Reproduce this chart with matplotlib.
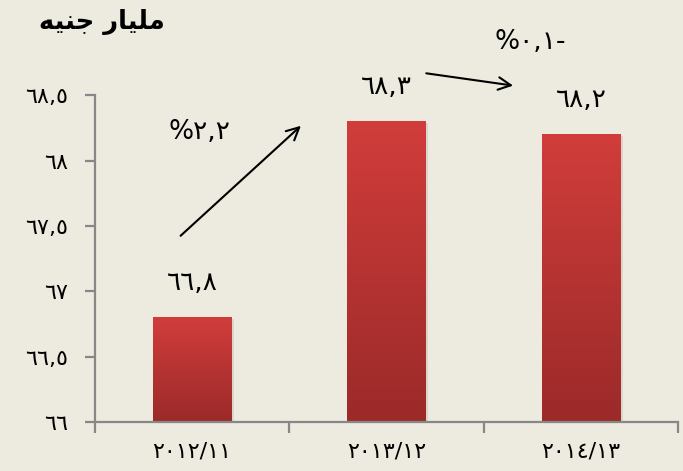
import numpy as np
import matplotlib
matplotlib.use("Agg")
import matplotlib.pyplot as plt
from matplotlib.colors import LinearSegmentedColormap

# ---- data ----
categories = ["٢٠١٢/١١", "٢٠١٣/١٢", "٢٠١٤/١٣"]
values = [66.8, 68.3, 68.2]
value_labels = ["٦٦,٨", "٦٨,٣", "٦٨,٢"]
yticks = [66, 66.5, 67, 67.5, 68, 68.5]
ytick_labels = ["٦٦", "٦٦,٥", "٦٧", "٦٧,٥", "٦٨", "٦٨,٥"]
change_labels = ["%٢,٢", "%٠,١-"]
title_text = "مليار جنيه"

# ---- minimal Arabic shaping (presentation forms, visual order) ----
FORMS = {  # isolated, final, initial, medial
    "م": ("\uFEE1", "\uFEE2", "\uFEE3", "\uFEE4"),
    "ل": ("\uFEDD", "\uFEDE", "\uFEDF", "\uFEE0"),
    "ي": ("\uFEF1", "\uFEF2", "\uFEF3", "\uFEF4"),
    "ا": ("\uFE8D", "\uFE8E", None, None),
    "ر": ("\uFEAD", "\uFEAE", None, None),
    "ج": ("\uFE9D", "\uFE9E", "\uFE9F", "\uFEA0"),
    "ن": ("\uFEE5", "\uFEE6", "\uFEE7", "\uFEE8"),
    "ه": ("\uFEE9", "\uFEEA", "\uFEEB", "\uFEEC"),
}


def shape_arabic(s):
    out = []
    chars = list(s)
    for i, c in enumerate(chars):
        if c not in FORMS:
            out.append(c)
            continue
        prev = chars[i - 1] if i > 0 else None
        nxt = chars[i + 1] if i + 1 < len(chars) else None
        join_prev = prev in FORMS and FORMS[prev][2] is not None
        join_next = nxt in FORMS and FORMS[c][2] is not None
        iso, fin, ini, med = FORMS[c]
        if join_prev and join_next:
            out.append(med)
        elif join_prev:
            out.append(fin)
        elif join_next:
            out.append(ini)
        else:
            out.append(iso)
    return "".join(out[::-1])


BG = "#EDEADF"
GRAY = "#878787"
plt.rcParams["font.family"] = ["DejaVu Sans"]

fig = plt.figure(figsize=(6.83, 4.71), dpi=100, facecolor=BG)
ax = fig.add_axes([0.139, 0.104, 0.854, 0.694])
ax.set_facecolor(BG)

x = np.arange(len(categories))
bars = ax.bar(x, values, width=0.405, bottom=0, color="none", edgecolor="none", zorder=2)

cmap = LinearSegmentedColormap.from_list("redgrad", ["#9B2A29", "#D13D3B"])
grad = np.linspace(0, 1, 256).reshape(-1, 1)
for b in bars:
    x0, w = b.get_x(), b.get_width()
    top = b.get_height()
    # soft shadow
    ax.bar(x0 + w / 2 + 0.012, top - 66, width=w, bottom=66 - 0.015,
           color="#c9c4b8", alpha=0.5, zorder=1.5, edgecolor="none")
    ax.imshow(grad, extent=[x0, x0 + w, 66, top], origin="lower", cmap=cmap,
              aspect="auto", zorder=2, interpolation="bicubic")

ax.set_xlim(-0.5, 2.5)
ax.set_ylim(66, 68.5)

for s in ["top", "right"]:
    ax.spines[s].set_visible(False)
for s in ["left", "bottom"]:
    ax.spines[s].set_color(GRAY)
    ax.spines[s].set_linewidth(1.6)

ax.set_yticks(yticks)
ax.set_yticklabels(ytick_labels, fontsize=16)
ax.tick_params(axis="y", direction="out", length=7, width=1.6, color=GRAY, pad=12)

ax.set_xticks(x)
ax.set_xticklabels(categories, fontsize=16)
ax.tick_params(axis="x", which="major", length=0, pad=14)
ax.set_xticks([-0.5, 0.5, 1.5, 2.5], minor=True)
ax.tick_params(axis="x", which="minor", direction="out", length=8, width=1.6, color=GRAY)

for xi, v, lab in zip(x, values, value_labels):
    ax.annotate(lab, (xi, v), xytext=(0, 25), textcoords="offset points",
                ha="center", va="center", fontsize=19, color="black",
                annotation_clip=False)

# growth arrows
ax.annotate("", xy=(0.57, 68.28), xytext=(-0.07, 67.41),
            arrowprops=dict(arrowstyle="->,head_length=0.9,head_width=0.45", lw=1.5, color="black"),
            annotation_clip=False)
ax.annotate("", xy=(1.665, 68.57), xytext=(1.19, 68.67),
            arrowprops=dict(arrowstyle="->,head_length=0.9,head_width=0.45", lw=1.5, color="black"),
            annotation_clip=False)
ax.text(0.036, 68.22, change_labels[0], ha="center", va="center", fontsize=19, clip_on=False)
ax.text(1.74, 68.91, change_labels[1], ha="center", va="center", fontsize=19, clip_on=False)

fig.text(0.149, 0.953, shape_arabic(title_text), ha="center", va="center",
         fontsize=18.5, fontweight="bold")

fig.savefig("out.png", dpi=100, facecolor=BG)
